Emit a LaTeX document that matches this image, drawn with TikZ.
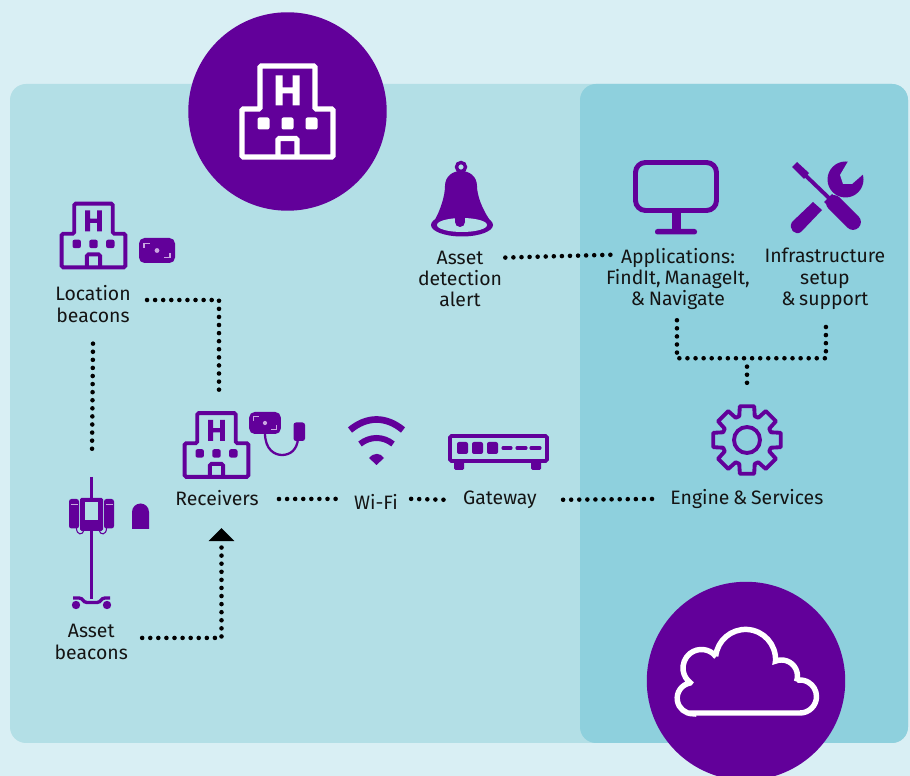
\documentclass[tikz,border=0pt]{standalone}
\usepackage{fontspec}
\setmainfont[WordSpace=0.72]{Fira Sans}
\usepackage{tikz}
\usetikzlibrary{calc,arrows.meta,positioning}
\definecolor{pagebg}{HTML}{D9EFF4}
\definecolor{sitebg}{HTML}{B3DFE6}
\definecolor{cloudbg}{HTML}{8ED0DD}
\definecolor{iconpurple}{HTML}{62009A}
\definecolor{lensmark}{HTML}{C9A6E0}
\definecolor{labelink}{HTML}{141414}
\tikzset{
    every node/.style={font=\fontsize{11.05}{12.1}\selectfont,text=labelink},
    label node/.style={inner sep=0pt,align=center},
    icon box/.style={inner sep=0pt,minimum size=#1},
    big disc/.style={circle,fill=iconpurple,inner sep=0pt,minimum size=3.97cm},
    dot line/.style={line width=2.6pt,line cap=round,dash pattern=on 0pt off 4.6pt,black},
    hotelicon/.pic={
        \draw[rounded corners=0.03cm] (-27.5,-2.5) -- (-27.5,-45.5) -- (27.5,-45.5) -- (27.5,-2.5)
            -- (45.5,-2.5) -- (45.5,45.5) -- (-45.5,45.5) -- (-45.5,-2.5) -- cycle;
        \draw[rounded corners=0.03cm] (-9.5,45.5) -- (-9.5,27) -- (9.5,27) -- (9.5,45.5);
        \foreach \winx in {-24,0,24}
            \fill[rounded corners=0.04cm] (\winx-6,6) rectangle (\winx+6,18);
        \fill (-12,-36) rectangle (-5,-6) (5,-36) rectangle (12,-6) (-5,-24) rectangle (5,-18);
    },
    lenstag/.pic={
        \fill[iconpurple,rounded corners=0.11cm] (-18,-12.5) rectangle (18,12.5);
        \draw[lensmark,line width=0.6pt] (-13,-2.5) -- (-13,-7) -- (-7,-7) (13,2.5) -- (13,7) -- (7,7);
        \fill[lensmark] (0,0) circle (2.4);
    },
    gearicon/.pic={
        \draw[line join=round] (-12:34.5) \foreach \toothang in {0,45,...,315}
            {-- (\toothang-12:34.5) -- (\toothang+12:34.5) -- (\toothang+18:25) -- (\toothang+27:25)} -- cycle;
        \draw (0,0) circle (13);
    }
}

\begin{document}
\begin{tikzpicture}[x=0.02cm,y=-0.02cm,on grid]

    \useasboundingbox (0,0) rectangle (910,776);
    \fill[pagebg] (0,0) rectangle (910,776);
    \fill[sitebg,rounded corners=0.32cm] (10,84) rectangle (908,743);
    \fill[cloudbg,rounded corners=0.32cm] (580,84) rectangle (908,743);

    \node[big disc] (sitedisc) at (287.5,111.5) {};
    \node[big disc] (clouddisc) at (746,681) {};

    \node[label node] (location) at (93,304) {Location\\beacons};
    \node[label node] (asset) [below =6.76cm of location,xshift=-1pt]{Asset\\beacons};
    \node[label node] (receivers) at (217,498) {Receivers};
    \node[label node] (wifi) [right =3.18cm of receivers,yshift=-2.2pt]{Wi-Fi};
    \node[label node] (gateway) [right =5.66cm of receivers,yshift=-1pt]{Gateway};
    \node[label node] (engine) [right =10.6cm of receivers,yshift=-0.5pt]{Engine \& Services};
    \node[label node] (alert) at (460,279) {Asset\\detection\\alert};
    \node[label node] (apps) [right =4.36cm of alert]{Applications:\\FindIt, ManageIt,\\\& Navigate};
    \node[label node] (infra) [right =2.94cm of apps]{Infrastructure\\setup\\\& support};

    \node[icon box=1.32cm] (lochotel) at (93.5,235.5) {};
    \node[icon box=1.32cm] (rxhotel) at (216.5,445) {};
    \node[icon box=1.44cm] (gear) at (747,440) {};
    \node[icon box=1.2cm] (pole) at (92,537) {};

    \pic[white,line width=3.1pt] at (sitedisc) {hotelicon};
    \pic[iconpurple,line width=2.2pt,scale=0.7] at (lochotel) {hotelicon};
    \pic[iconpurple,line width=2.2pt,scale=0.7] at (rxhotel) {hotelicon};
    \pic at (157,250.5) {lenstag};
    \pic[scale=0.88] at (265,423) {lenstag};
    \pic[iconpurple,line width=2.2pt] at (gear) {gearicon};

    % receiver cable and plug
    \draw[iconpurple,line width=1.3pt] (265,433) .. controls (265,450) and (275,455) .. (282,455)
        .. controls (290,455) and (297,450) .. (298,439);
    \fill[iconpurple,rounded corners=0.05cm] (293.5,422.5) rectangle (305,441);

    % wifi
    \draw[iconpurple,line width=3.8pt] (350,430) .. controls (367,416) and (386,416) .. (403,430);
    \draw[iconpurple,line width=3.4pt] (360,444) .. controls (370,436) and (383,436) .. (393,444);
    \fill[iconpurple] (369,458) .. controls (374,452.5) and (380,452.5) .. (384,458) -- (376.5,465) -- cycle;

    % gateway
    \draw[iconpurple,line width=2.2pt,rounded corners=0.03cm] (450,436) rectangle (547,461);
    \fill[iconpurple,rounded corners=0.03cm] (454,460) rectangle (464,470) (531,460) rectangle (541,470);
    \foreach \blockx in {457,472,487}
        \fill[iconpurple,rounded corners=0.04cm] (\blockx,442) rectangle (\blockx+11,454);
    \draw[iconpurple,line width=1.8pt,line cap=round] (503,448) -- (511,448) (517,448) -- (526,448) (531,448) -- (540,448);

    % infusion pole
    \draw[iconpurple,line width=2pt] (91.7,477) -- (91.7,599);
    \fill[iconpurple,rounded corners=0.03cm] (80,498) rectangle (103,531);
    \fill[sitebg] (85,502) rectangle (98,520);
    \foreach \bagx in {69,104}{
        \fill[iconpurple,rounded corners=0.05cm] (\bagx,499) rectangle (\bagx+10,528.5);
        \draw[lensmark,line width=0.8pt] (\bagx+1.5,504.5) -- (\bagx+8.5,504.5);
    }
    \draw[iconpurple,line width=0.6pt] (76.5,528) .. controls (76.5,535.5) and (83,535.5) .. (84,530)
        (99,530) .. controls (100,535.5) and (106.5,535.5) .. (106.5,528);
    \draw[iconpurple,line width=1.9pt] (73,598) -- (79,598) .. controls (83,598) and (83,602.5) .. (87,602.5)
        -- (97,602.5) .. controls (101,602.5) and (101,598) .. (105,598) -- (110,598);
    \fill[iconpurple] (76,605) circle (4.2) (107,605) circle (4.2);
    \fill[iconpurple] (132,529) -- (132,512) arc[start angle=180,end angle=360,radius=8.5] -- (149,529) -- cycle;

    % bell
    \draw[iconpurple,line width=1.9pt] (461,167) circle (4.5);
    \fill[iconpurple] (433,223) .. controls (441,210) and (445,195) .. (445,186)
        .. controls (445,176) and (453,171) .. (461,171) .. controls (469,171) and (477,176) .. (477,186)
        .. controls (477,195) and (482,210) .. (492,223) -- cycle;
    \fill[iconpurple] (462,225) ellipse (31 and 11.5);
    \fill[sitebg] (462,225) ellipse (25 and 7);
    \fill[iconpurple] (460,222) circle (5);
    \fill[iconpurple] (455,216) rectangle (465,222);

    % monitor
    \draw[iconpurple,line width=2.8pt,rounded corners=0.2cm] (635.5,162.5) rectangle (716.5,210.5);
    \fill[iconpurple] (672,212) rectangle (681,230);
    \fill[iconpurple,rounded corners=0.05cm] (655,229) rectangle (697,234.5);

    % tools
    \fill[iconpurple] (792,167) -- (797,162) -- (809,173) -- (804,179) -- cycle;
    \draw[iconpurple,line width=2.2pt] (805,175) -- (830,199);
    \fill[iconpurple] (824,202) -- (832,194) -- (838,200) -- (830,208) -- cycle;
    \draw[iconpurple,line width=9pt,line cap=round] (834,203) -- (853,222);
    \fill[iconpurple] (813,202) -- (822,210) -- (801,232) .. controls (795,236) and (788,229) .. (792,222) -- cycle;
    \fill[iconpurple] (845.5,179.5) circle (18);
    \fill[cloudbg] (850,158) -- (840,175) -- (843,184) -- (852,184) -- (868,170) -- cycle;

    % cloud
    \draw[white,line width=3.1pt,miter limit=6] (692.5,713) -- (800,713)
        arc[start angle=90,end angle=-100,radius=16.5]
        -- (796.6,681.2) arc[start angle=19,end angle=-112,radius=16]
        -- (775.5,661) arc[start angle=3,end angle=-174,radius=30]
        -- (716,656.5) arc[start angle=-38.4,end angle=-232.5,radius=18.5]
        -- (690,683) arc[start angle=-100,end angle=-270,radius=15.5] -- cycle;

    \draw[dot line] ([shift={(16,-4)}]location.east) -| ([shift={(2.5,-20)}]rxhotel.north);
    \draw[dot line] ([shift={(0,21)}]location.south) -- ([shift={(0,-54)}]pole.north);
    \draw[dot line] ([shift={(20,1)}]receivers.east) -- ([shift={(-13,-3)}]wifi.west);
    \draw[dot line] ([shift={(13,-3)}]wifi.east) -- ([shift={(-19,0)}]gateway.west);
    \draw[dot line] ([shift={(26,0)}]gateway.east) -- ([shift={(-11,0)}]engine.west);
    \draw[dot line] ([shift={(3,7)}]alert.north east) -- ([shift={(6,7)}]apps.north west);
    \draw[dot line] ([shift={(-1,10)}]apps.south) -- ++(0,38) -| ([shift={(1,10)}]infra.south);
    \draw[dot line] ([shift={(0,-37)}]gear.north) -- ([shift={(0,-15)}]gear.north);
    \draw[dot line,-{Triangle[length=7.4pt,width=14.2pt]}] ([shift={(14,-4)}]asset.east) -| ([shift={(4.5,22)}]receivers.south);
\end{tikzpicture}
\end{document}
